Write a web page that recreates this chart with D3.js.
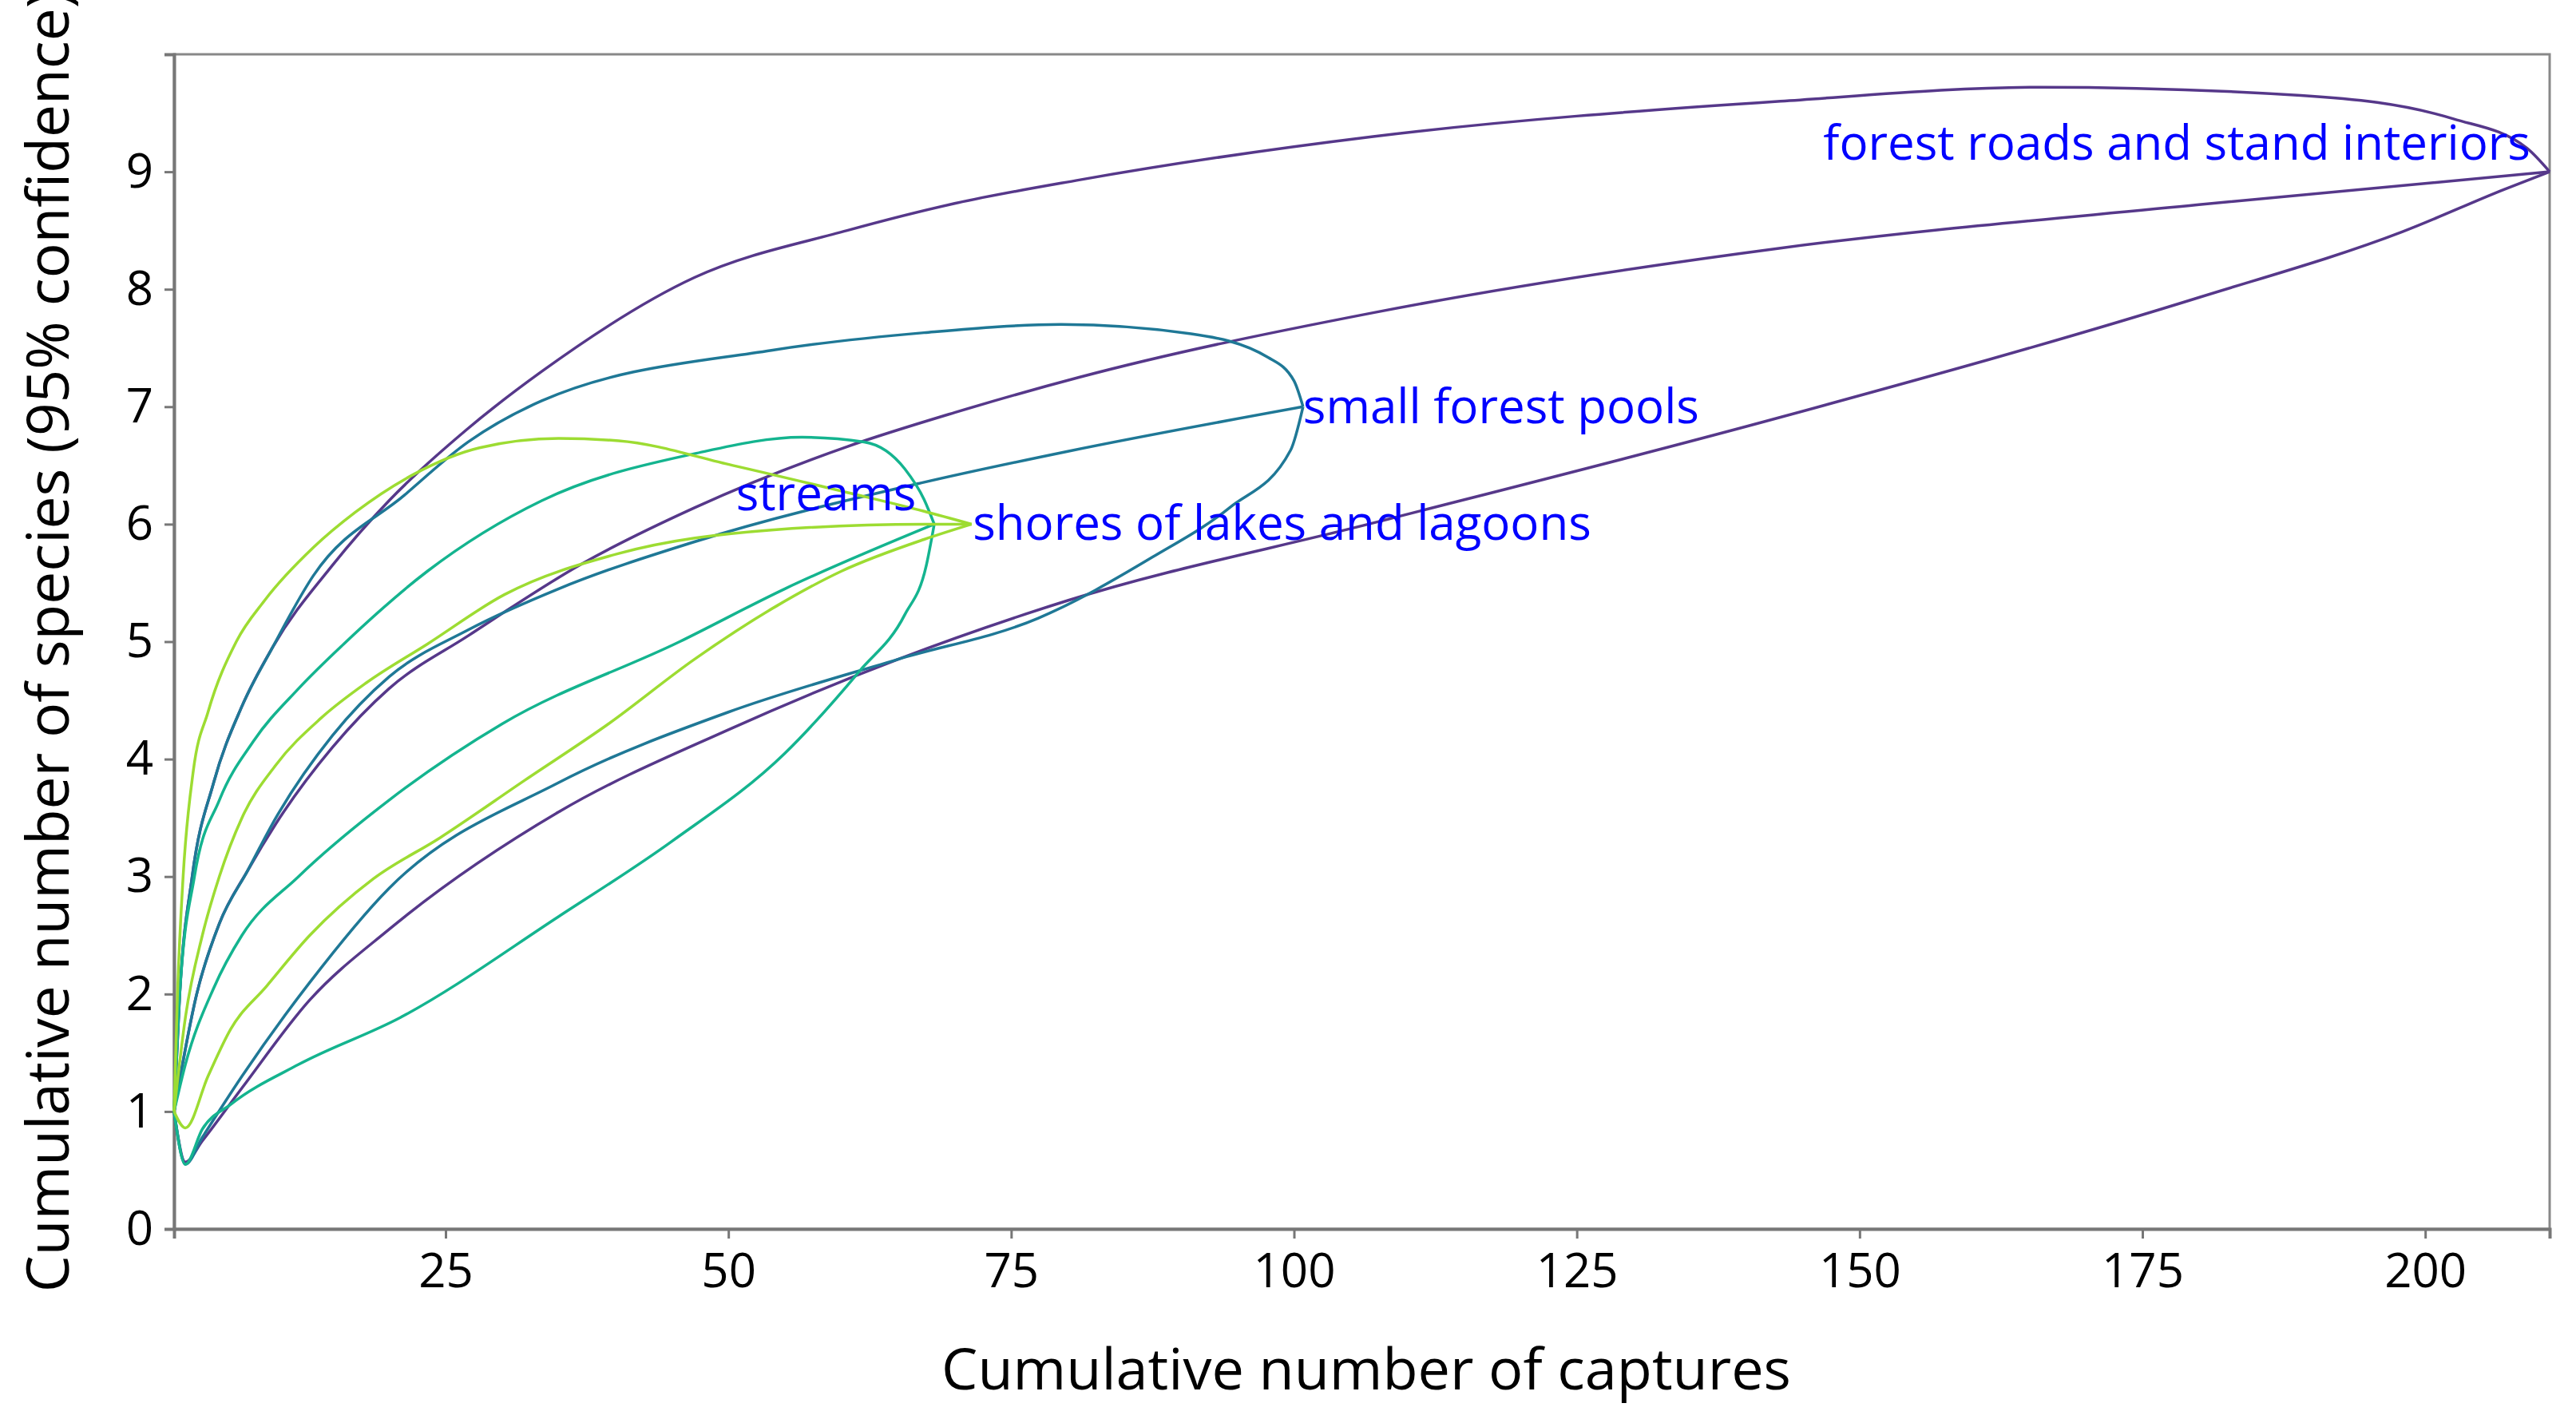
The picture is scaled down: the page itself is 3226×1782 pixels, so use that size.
<!DOCTYPE html>
<html><head><meta charset="utf-8">
<script src="https://cdn.jsdelivr.net/npm/d3@7"></script>
<style>body{margin:0;background:#fff}</style></head>
<body><svg id="c" width="3226" height="1782"></svg>
<script>
const xTicks=[25,50,75,100,125,150,175,200];
const yTicks=[0,1,2,3,4,5,6,7,8,9];
const groups=["forest roads and stand interiors","small forest pools","streams","shores of lakes and lagoons"];
const colors=["#56388a","#1f7896","#14b48f","#9ddc32"];
// forest roads and stand interiors
const roadsUpper=[[1,1],[1.5,2],[2.6,3],[4.5,3.8],[7,4.45],[9.7,4.95],[15,5.65],[20,6.2],[26.8,6.8],[33.5,7.3],[47,8.1],[60.5,8.5],[70,8.73],[81,8.93],[107,9.3],[143,9.6],[166,9.72],[189,9.65],[202.5,9.45],[209,9.2],[211,9.0]];
const roadsMean=[[1,1],[3,2.0],[5,2.6],[7.5,3.05],[10,3.45],[15,4.1],[20,4.6],[27,5.05],[37,5.66],[47,6.14],[60.5,6.66],[70,6.95],[81,7.25],[107,7.8],[143,8.35],[180,8.72],[211,9]];
const roadsLower=[[1,1],[2,0.57],[3.5,0.75],[7,1.2],[13,1.95],[20,2.55],[35,3.55],[50,4.25],[65,4.85],[80,5.35],[107,6.01],[143,6.91],[180,7.93],[198,8.49],[207,8.85],[211,9]];
// small forest pools
const poolsUpper=[[1,1],[1.5,2],[2.6,3],[4.5,3.8],[7,4.45],[9.7,4.95],[13.3,5.56],[21.4,6.25],[27,6.7],[33.5,7.05],[53.8,7.48],[67.3,7.63],[79.4,7.70],[90.9,7.62],[97.7,7.42],[100,7.22],[100.8,7.0]];
const poolsMean=[[1,1],[3,2.0],[5,2.6],[7.5,3.05],[10,3.5],[15,4.2],[20,4.7],[27,5.1],[35,5.45],[47,5.85],[67,6.35],[80,6.62],[100.8,7]];
const poolsLower=[[1,1],[2,0.55],[3.5,0.78],[7,1.3],[13,2.1],[20,2.9],[35,3.8],[50,4.4],[65,4.85],[77.4,5.2],[87.5,5.72],[94.3,6.14],[99.7,6.63],[100.8,7]];
// streams
const streamsUpper=[[1,1],[1.5,2],[2.8,3],[5,3.65],[8,4.15],[12,4.6],[16,4.98],[23.4,5.6],[33.5,6.2],[47,6.6],[56.5,6.74],[62,6.7],[65.6,6.47],[67.3,6.21],[68.2,6.0]];
const streamsMean=[[1,1],[2,1.4],[4.5,2.05],[7,2.5],[12,3.0],[20,3.65],[30,4.3],[45.7,5.0],[55,5.45],[68.2,6.0]];
const streamsLower=[[1,1],[2,0.55],[3.5,0.85],[6,1.06],[12,1.4],[21,1.8],[35,2.66],[45,3.3],[55,4.05],[61.6,4.75],[65.6,5.23],[67.5,5.65],[68.2,6.0]];
// shores of lakes and lagoons
const shoresUpper=[[1,1],[1.3,2],[1.8,3],[2.7,3.9],[4,4.4],[6.5,5.0],[9,5.35],[13.3,5.8],[17,6.1],[22.1,6.42],[28,6.65],[35,6.73],[40.3,6.71],[50.4,6.5],[60.5,6.27],[67.3,6.11],[71.5,6]];
const shoresMean=[[1,1],[2,1.8],[3.5,2.5],[5,3.0],[7,3.5],[10,3.95],[14,4.35],[18,4.65],[23.4,4.98],[30.2,5.4],[40.3,5.75],[53.8,5.95],[67.3,6.0],[71.5,6]];
const shoresLower=[[1,1],[2,0.86],[4,1.3],[6,1.7],[9.2,2.07],[13,2.5],[18.6,2.98],[24.5,3.33],[32,3.82],[39.4,4.3],[47,4.85],[54.2,5.3],[60,5.6],[67.3,5.87],[71.5,6]];
const series=[[roadsUpper,roadsMean,roadsLower],[poolsUpper,poolsMean,poolsLower],[streamsUpper,streamsMean,streamsLower],[shoresUpper,shoresMean,shoresLower]];
const labelPos=[[209.3,9.1,"end"],[100.8,6.86,"start"],[66.6,6.12,"end"],[71.6,5.87,"start"]];

const L=218,R=3193,T=68,B=1539;
const x=d3.scaleLinear().domain([1,211]).range([L,R]);
const y=d3.scaleLinear().domain([0,10]).range([B,T]);
const svg=d3.select("#c");
const font="'Open Sans', 'Noto Sans', sans-serif";
svg.append("rect").attr("x",L).attr("y",T).attr("width",R-L).attr("height",B-T).attr("fill","none").attr("stroke","#888").attr("stroke-width",3);
const xa=svg.append("g").attr("transform",`translate(0,${B})`).call(d3.axisBottom(x).tickValues(xTicks).tickSize(12).tickPadding(18));
const ya=svg.append("g").attr("transform",`translate(${L},0)`).call(d3.axisLeft(y).tickValues(yTicks).tickSize(12).tickPadding(14));
[xa,ya].forEach(a=>{a.select(".domain").attr("stroke","#777").attr("stroke-width",4);a.selectAll("line").attr("stroke","#777").attr("stroke-width",3);a.selectAll("text").attr("font-size",60).attr("font-family",font).attr("fill","#000");});
svg.append("text").attr("x",1711).attr("y",1740).attr("text-anchor","middle").attr("font-size",72).attr("font-family",font).text("Cumulative number of captures");
svg.append("text").attr("transform",`translate(86,${(T+B)/2}) rotate(-90)`).attr("text-anchor","middle").attr("font-size",73).attr("font-family",font).text("Cumulative number of species (95% confidence)");
const line=d3.line().x(d=>x(d[0])).y(d=>y(d[1])).curve(d3.curveMonotoneX);
series.forEach((s,i)=>s.forEach(c=>svg.append("path").attr("d",line(c)).attr("fill","none").attr("stroke",colors[i]).attr("stroke-width",3.5)));
groups.forEach((g,i)=>{const p=labelPos[i];svg.append("text").attr("x",x(p[0])).attr("y",y(p[1])).attr("text-anchor",p[2]).attr("font-size",60).attr("font-family",font).attr("fill","#0000ff").text(g);});
</script></body></html>
